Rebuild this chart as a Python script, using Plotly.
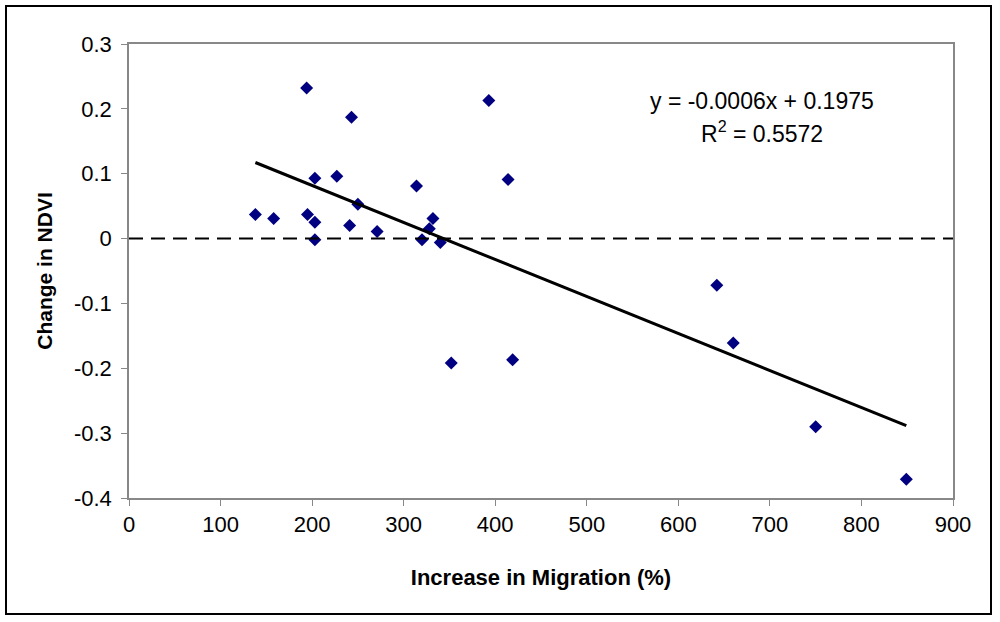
import numpy as np
import plotly.graph_objects as go

# Data
migration_increase = [138, 158, 194, 195, 203, 203, 203, 227, 241, 243, 250, 271,
                      314, 320, 328, 332, 340, 352, 393, 414, 419, 642, 660, 750, 849]
ndvi_change = [0.037, 0.031, 0.232, 0.037, 0.025, 0.093, -0.002, 0.096, 0.020, 0.187,
               0.053, 0.011, 0.081, -0.002, 0.015, 0.031, -0.006, -0.192, 0.213, 0.091,
               -0.187, -0.072, -0.161, -0.290, -0.371]
x_ticks = [0, 100, 200, 300, 400, 500, 600, 700, 800, 900]
y_ticks = [0.3, 0.2, 0.1, 0, -0.1, -0.2, -0.3, -0.4]
equation_text = "y = -0.0006x + 0.1975"
r2_text = "R<sup>2</sup> = 0.5572"

# Linear trendline computed from the data
slope, intercept = np.polyfit(migration_increase, ndvi_change, 1)
tx = np.array([min(migration_increase), max(migration_increase)])
ty = slope * tx + intercept

FONT = "Arial, Liberation Sans, sans-serif"
W, H = 1000, 622
ML, MR, MT, MB = 129, 47, 44, 124

fig = go.Figure()
fig.add_trace(go.Scatter(
    x=migration_increase, y=ndvi_change, mode="markers",
    marker=dict(symbol="diamond", size=10, color="#000080", line=dict(width=0)),
    showlegend=False))
fig.add_trace(go.Scatter(
    x=tx, y=ty, mode="lines", line=dict(color="black", width=3),
    showlegend=False))

# dashed zero line
fig.add_shape(type="line", xref="paper", yref="y", x0=0, x1=1, y0=0, y1=0,
              line=dict(color="black", width=2, dash="14px,8px"))

# outer frame
pw, ph = W - ML - MR, H - MT - MB
fig.add_shape(type="rect", xref="paper", yref="paper",
              x0=(6 - ML) / pw, x1=(991 - ML) / pw,
              y0=(H - MB - 614) / ph, y1=(H - MB - 6) / ph,
              line=dict(color="black", width=2), layer="below")

fig.add_annotation(x=691, y=0.212, xref="x", yref="y", text=equation_text,
                   showarrow=False, font=dict(family=FONT, size=23, color="black"),
                   xanchor="center", yanchor="middle")
fig.add_annotation(x=691, y=0.164, xref="x", yref="y", text=r2_text,
                   showarrow=False, font=dict(family=FONT, size=23, color="black"),
                   xanchor="center", yanchor="middle")

axis_common = dict(showgrid=False, zeroline=False, showline=True, mirror=True,
                   linecolor="#888888", linewidth=1.5, ticks="outside",
                   tickcolor="#888888", ticklen=6, tickwidth=1,
                   tickfont=dict(family=FONT, size=22, color="black"))

fig.update_xaxes(range=[0, 900], tickvals=x_ticks, ticktext=[str(v) for v in x_ticks],
                 title=dict(text="<b>Increase in Migration (%)</b>", standoff=33,
                            font=dict(family=FONT, size=22, color="black")),
                 **axis_common)
fig.update_yaxes(range=[-0.4, 0.3], tickvals=y_ticks,
                 ticktext=[("%g" % v) for v in y_ticks], ticklabelstandoff=5,
                 title=dict(text="<b>Change in NDVI</b>", standoff=16,
                            font=dict(family=FONT, size=21, color="black")),
                 **axis_common)

fig.update_layout(width=W, height=H, margin=dict(l=ML, r=MR, t=MT, b=MB),
                  plot_bgcolor="white", paper_bgcolor="white",
                  font=dict(family=FONT))

fig.write_html("out.html", config={"displayModeBar": False},
               post_script="document.body.style.margin='0';document.body.style.overflow='hidden';")
